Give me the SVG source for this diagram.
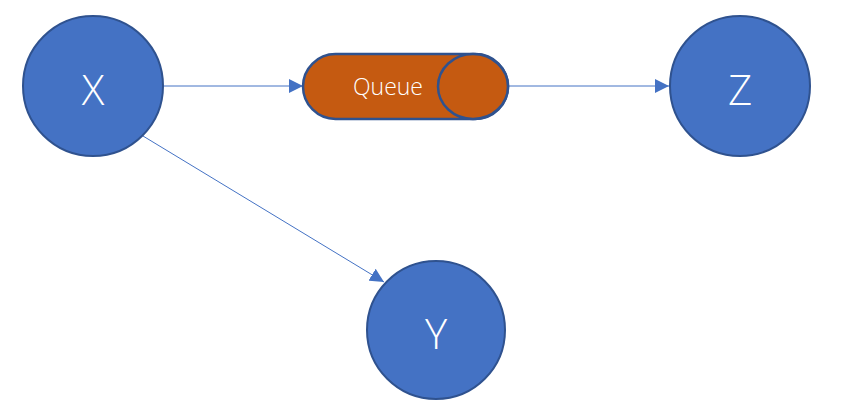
<svg xmlns="http://www.w3.org/2000/svg" width="845" height="413" viewBox="0 0 845 413">
  <style>
    .node { fill: #4472C4; stroke: #2F528F; stroke-width: 2; }
    .queue { fill: #C55A11; stroke: #2F528F; stroke-width: 2.5; }
    .label { fill: #FFFFFF; font-family: "Open Sans", "Segoe UI", "Liberation Sans", sans-serif; font-weight: 300; text-anchor: middle; dominant-baseline: central; }
    .edge { stroke: #4472C4; stroke-width: 1; fill: none; marker-end: url(#arrow); }
  </style>
  <defs>
    <marker id="arrow" viewBox="0 0 10 10" refX="10" refY="5" markerWidth="14" markerHeight="14" markerUnits="userSpaceOnUse" orient="auto">
      <path d="M0,0 L10,5 L0,10 z" fill="#4472C4"/>
    </marker>
  </defs>
  <rect width="845" height="413" fill="#FFFFFF"/>

  <g id="connectors">
    <line class="edge" x1="164" y1="86" x2="303" y2="86"/>
    <line class="edge" x1="508" y1="86" x2="669" y2="86"/>
    <line class="edge" x1="143" y1="136" x2="384" y2="282"/>
  </g>

  <g id="node-x">
    <circle class="node" cx="93" cy="86" r="70"/>
    <text class="label" x="93" y="88" font-size="42">X</text>
  </g>

  <g id="node-queue">
    <rect class="queue" x="303" y="54" width="205" height="65" rx="32.5" ry="32.5"/>
    <ellipse class="queue" cx="473" cy="86.5" rx="35" ry="32.5"/>
    <text class="label" x="388" y="86" font-size="23">Queue</text>
  </g>

  <g id="node-z">
    <circle class="node" cx="740" cy="86" r="70"/>
    <text class="label" x="740" y="88" font-size="42">Z</text>
  </g>

  <g id="node-y">
    <circle class="node" cx="436" cy="330" r="69"/>
    <text class="label" x="436" y="332" font-size="42">Y</text>
  </g>
</svg>
